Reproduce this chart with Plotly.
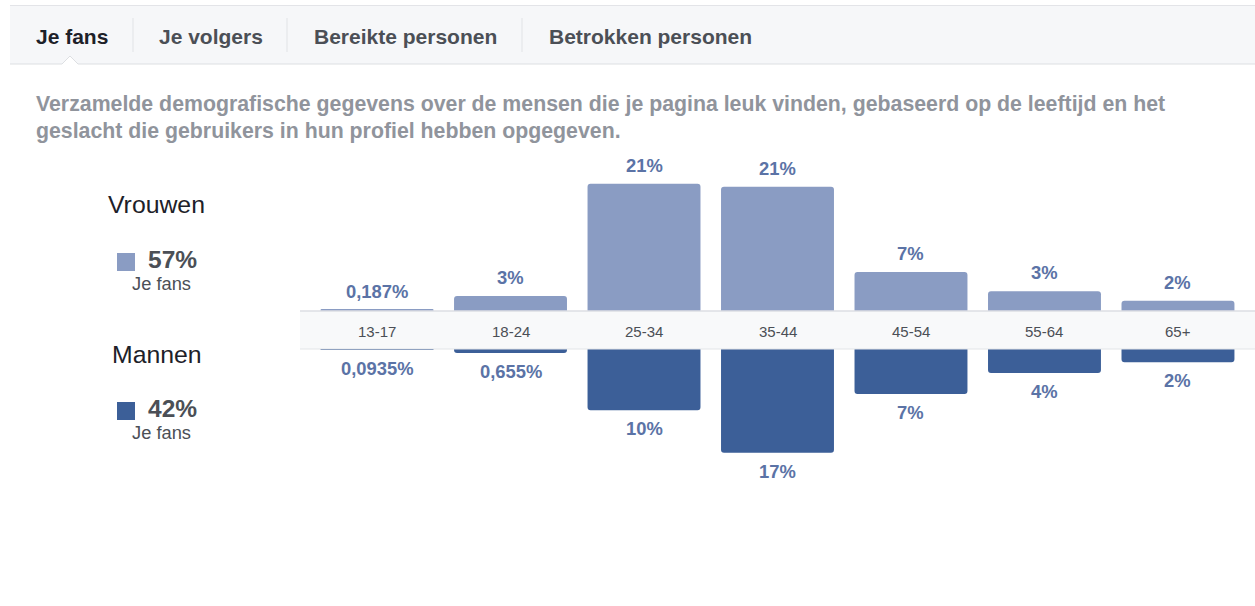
import plotly.graph_objects as go

# ---- data ----
age_groups = ["13-17", "18-24", "25-34", "35-44", "45-54", "55-64", "65+"]
women_values = [0.187, 2.5, 21.2, 20.7, 6.5, 3.3, 1.7]
women_labels = ["0,187%", "3%", "21%", "21%", "7%", "3%", "2%"]
men_values = [0.0935, 0.655, 10.2, 17.3, 7.5, 4.0, 2.2]
men_labels = ["0,0935%", "0,655%", "10%", "17%", "7%", "4%", "2%"]
tabs = ["Je fans", "Je volgers", "Bereikte personen", "Betrokken personen"]
women_total = "57%"
men_total = "42%"

W, H = 1255, 606
OX, OY = 0, 0  # body margin removed via post_script
FW, FH = W - OX, H - OY
FONT = "Liberation Sans, Arial, sans-serif"
WOMEN_C = "#8a9cc3"
MEN_C = "#3c5f98"
LABEL_C = "#5b73a6"


def px(x):
    return (x - OX) / FW


def py(y):
    return 1 - (y - OY) / FH


fig = go.Figure()
xs = list(range(len(age_groups)))
fig.add_trace(go.Bar(x=xs, y=women_values, marker=dict(color=WOMEN_C, cornerradius=3, line_width=0),
                     width=0.846, xaxis="x", yaxis="y", hoverinfo="skip"))
fig.add_trace(go.Bar(x=xs, y=men_values, marker=dict(color=MEN_C, cornerradius=3, line_width=0),
                     width=0.846, xaxis="x", yaxis="y2", hoverinfo="skip"))

scale = 6.0  # px per percent
top_px, base_top, base_bot, bot_px = 150, 311, 349, 520
fig.update_layout(
    width=FW, height=FH,
    margin=dict(l=0, r=0, t=0, b=0),
    paper_bgcolor="white", plot_bgcolor="rgba(0,0,0,0)",
    showlegend=False,
    font=dict(family=FONT),
    xaxis=dict(domain=[px(300), 1], range=[-0.577, 6.577], visible=False, fixedrange=True),
    yaxis=dict(domain=[py(base_top), py(top_px)], range=[0, (base_top - top_px) / scale],
               visible=False, fixedrange=True),
    yaxis2=dict(domain=[py(bot_px), py(base_bot)], range=[(bot_px - base_bot) / scale, 0],
                visible=False, fixedrange=True, anchor="x"),
)

shapes = []
ann = []

# header tab bar
shapes.append(dict(type="rect", xref="paper", yref="paper", x0=px(10), x1=1, y0=py(64), y1=py(5.5),
                   fillcolor="#f6f7f9", line_width=0, layer="below"))
shapes.append(dict(type="line", xref="paper", yref="paper", x0=px(10), x1=1, y0=py(5.5), y1=py(5.5),
                   line=dict(color="#e3e4e8", width=1)))
notch = f"M {px(10)},{py(64)} L {px(62)},{py(64)} L {px(70)},{py(56)} L {px(78)},{py(64)} L 1,{py(64)}"
shapes.append(dict(type="path", xref="paper", yref="paper",
                   path=f"M {px(62)},{py(64.5)} L {px(70)},{py(56)} L {px(78)},{py(64.5)} Z",
                   fillcolor="white", line_width=0))
shapes.append(dict(type="path", xref="paper", yref="paper", path=notch,
                   line=dict(color="#dddfe2", width=1)))
for sx in [133, 287, 522]:
    shapes.append(dict(type="line", xref="paper", yref="paper", x0=px(sx), x1=px(sx), y0=py(18), y1=py(52),
                       line=dict(color="#e1e3e6", width=1)))
tab_x = [34, 157, 312, 547]
for i, (t, tx) in enumerate(zip(tabs, tab_x)):
    ann.append(dict(text=f"<b>{t}</b>", x=px(tx), y=py(36), xref="paper", yref="paper",
                    xanchor="left", yanchor="middle", showarrow=False,
                    font=dict(size=21, color="#1d2129" if i == 0 else "#4b4f56")))

# description
desc = ["Verzamelde demografische gegevens over de mensen die je pagina leuk vinden, gebaseerd op de leeftijd en het",
        "geslacht die gebruikers in hun profiel hebben opgegeven."]
for line, yy in zip(desc, [104, 131]):
    ann.append(dict(text=f"<b>{line}</b>", x=px(34), y=py(yy), xref="paper", yref="paper",
                    xanchor="left", yanchor="middle", showarrow=False,
                    font=dict(size=21.3, color="#90949c")))

# left legend
for title, tot, color, ty in [("Vrouwen", women_total, WOMEN_C, 205), ("Mannen", men_total, MEN_C, 354)]:
    ann.append(dict(text=title, x=px(156.5), y=py(ty), xref="paper", yref="paper", xanchor="center",
                    yanchor="middle", showarrow=False, font=dict(size=24.8, color="#1d2129")))
    shapes.append(dict(type="rect", xref="paper", yref="paper", x0=px(117), x1=px(135),
                       y0=py(ty + 66), y1=py(ty + 48), fillcolor=color, line_width=0))
    ann.append(dict(text=f"<b>{tot}</b>", x=px(146), y=py(ty + 54), xref="paper", yref="paper",
                    xanchor="left", yanchor="middle", showarrow=False, font=dict(size=24.5, color="#4b4f56")))
    ann.append(dict(text="Je fans", x=px(161), y=py(ty + 78), xref="paper", yref="paper",
                    xanchor="center", yanchor="middle", showarrow=False, font=dict(size=18.3, color="#4b4f56")))

# category band
shapes.append(dict(type="rect", xref="paper", yref="paper", x0=px(300), x1=1, y0=py(349), y1=py(311),
                   fillcolor="#f8f9fa", line_width=0, layer="above"))
shapes.append(dict(type="line", xref="paper", yref="paper", x0=px(300), x1=1, y0=py(311), y1=py(311),
                   line=dict(color="#dcdee3", width=1.5), layer="above"))
shapes.append(dict(type="line", xref="paper", yref="paper", x0=px(300), x1=1, y0=py(349), y1=py(349),
                   line=dict(color="#e3e5e8", width=1), layer="above"))
for i, g in enumerate(age_groups):
    ann.append(dict(text=g, x=i, y=py(331), xref="x", yref="paper", xanchor="center", yanchor="middle",
                    showarrow=False, font=dict(size=15, color="#4b4f56")))

# value labels
for i, (v, lab) in enumerate(zip(women_values, women_labels)):
    ann.append(dict(text=f"<b>{lab}</b>", x=i, y=v, xref="x", yref="y", xanchor="center",
                    yanchor="bottom", yshift=6, showarrow=False, font=dict(size=18.4, color=LABEL_C)))
for i, (v, lab) in enumerate(zip(men_values, men_labels)):
    ann.append(dict(text=f"<b>{lab}</b>", x=i, y=v, xref="x", yref="y2", xanchor="center",
                    yanchor="top", yshift=-6, showarrow=False, font=dict(size=18.4, color=LABEL_C)))

fig.update_layout(shapes=shapes, annotations=ann)
fig.write_html("out.html", config={"displayModeBar": False},
               post_script="document.body.style.margin='0';document.body.style.overflow='hidden';")
